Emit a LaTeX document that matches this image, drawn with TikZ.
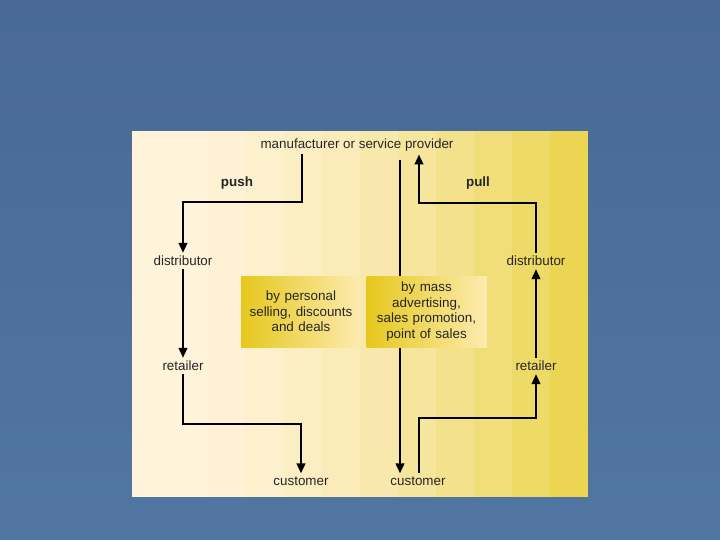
\documentclass[tikz,border=0pt]{standalone}
\usepackage{fontspec}
\setmainfont{Liberation Sans}
\usetikzlibrary{arrows.meta}
\usetikzlibrary{calc}

\definecolor{slidetop}{HTML}{486A94}
\definecolor{slidebot}{HTML}{5176A1}
\definecolor{panelL}{HTML}{FFF3DC}
\definecolor{panelR}{HTML}{EBD552}
\definecolor{boxdark}{HTML}{E6C81C}
\definecolor{boxpale}{HTML}{FCEBB0}
\definecolor{ink}{HTML}{262626}

\begin{document}
\begin{tikzpicture}[x=1pt, y=-1pt]
\tikzset{lbl/.style = {text=ink, inner sep=3pt, font=\fontsize{13.4}{15.5}\selectfont}}
\tikzset{arr/.style = {-{Triangle[length=10pt,width=8.5pt]}, line width=2.3pt, draw=black}}
\tikzset{way/.style = {lbl, text width=120pt, align=center, minimum height=71pt, inner sep=0pt}}

% slide and panel
\shade[top color=slidetop, bottom color=slidebot] (0,0) rectangle (720,540);
\useasboundingbox (0,0) rectangle (720,540);

\foreach \i in {0, 1, 2, 3, 4, 5, 6, 7, 8, 9, 10, 11}
  {\pgfmathsetmacro{\pct}{100-100*(\i/11)^1.7}
   \fill [panelL!\pct!panelR] (132+\i*38, 131) rectangle ++ (38, 366);}

% the parties
\node[lbl] (mfr)   at (357, 145) {manufacturer or service provider};
\node[lbl] (distL) at (183, 261) {distributor};
\node[lbl] (retL)  at (183, 366) {retailer};
\node[lbl] (custL) at (301, 481) {customer};
\node[lbl] (custR) at (418, 481) {customer};
\node[lbl] (distR) at (536, 261) {distributor};
\node[lbl] (retR)  at (536, 366) {retailer};

\node[lbl, font=\fontsize{13.4}{15.5}\selectfont\bfseries] (push) at (237, 183) {push};
\node[lbl, font=\fontsize{13.4}{15.5}\selectfont\bfseries] (pull) at (478, 183) {pull};

\coordinate (pushA) at (302, 202);
\coordinate (pushB) at (301, 424);
\coordinate (midTop) at (400, 160);
\coordinate (pullA) at (536, 418);
\coordinate (pullB) at (536, 203);

% push
\draw[arr] (mfr.south -| pushA) -- (pushA) -| (distL);
\draw[arr] (distL) -- (retL);
\draw[arr] (retL) |- (pushB) -- (custL);

% mass channel
\draw[arr] (midTop) -- (midTop |- custR.north);

% pull
\draw[arr] ([xshift=1pt]custR.north) |- (pullA) -- (retR);
\draw[arr] (retR) -- (distR);
\draw[arr] (distR) -- (pullB) -| ([xshift=62pt]mfr.south);

% how
\node[way, left color=boxdark, right color=boxpale, minimum width=118pt] (personal) at (301, 311.5)
  {by personal\\ selling, discounts\\ and deals};
\node[way, left color=boxdark, right color=boxpale, minimum width=115pt] (mass) at (426.5, 311.5)
  {by mass\\ advertising,\\ sales promotion,\\ point of sales};

\end{tikzpicture}
\end{document}
